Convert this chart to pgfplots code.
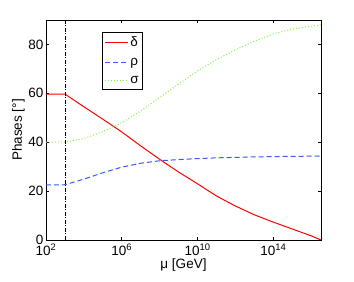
\documentclass[border=0pt]{standalone}
\usepackage{pgfplots}
\pgfplotsset{compat=1.18}
\usepackage{fontspec}
\setmainfont{Liberation Sans}
\definecolor{myred}{rgb}{1,0,0}
\definecolor{myblue}{rgb}{0.2,0.35,1}
\definecolor{mygreen}{rgb}{0.5,0.95,0.25}
\begin{document}
\begin{tikzpicture}
\begin{axis}[
  scale only axis,
  width=275pt, height=220pt,
  xmode=log,
  xmin=1e2, xmax=3.3e16,
  ymin=0, ymax=90,
  xtick={1e2,1e6,1e10,1e14},
  xticklabels={10\textsuperscript{2},10\textsuperscript{6},10\textsuperscript{10},10\textsuperscript{14}},
  minor xtick={},
  ytick={0,20,40,60,80},
  tick align=inside,
  major tick length=3pt,
  tick style={black, line width=0.6pt},
  axis line style={line width=0.9pt},
  /pgf/number format/assume math mode=true,
  tick label style={font=\fontsize{13.5}{15}\selectfont},
  label style={font=\fontsize{13.5}{15}\selectfont},
  yticklabel style={xshift=1pt},
  xlabel={μ [GeV]},
  ylabel={Phases [°]},
  xlabel style={yshift=4pt},
  ylabel style={yshift=-3pt},
  legend style={at={(0.203,0.945)}, anchor=north west, draw=black, line width=0.9pt,
    font=\fontsize{13.5}{15}\selectfont, row sep=6pt, inner sep=2pt,
    nodes={inner sep=2pt}},
  legend cell align=left,
  legend image code/.code={\draw[#1] (0pt,0pt) -- (23pt,0pt);},
  clip=true,
]
\addlegendimage{myred, line width=1.1pt}
\addlegendentry{δ}
\addlegendimage{myblue, line width=1.1pt, dash pattern=on 5pt off 3pt}
\addlegendentry{ρ}
\addlegendimage{mygreen, line width=1.1pt, dash pattern=on 1pt off 2pt}
\addlegendentry{σ}
\addplot[myred, line width=1pt, forget plot] coordinates {
(1e2,59.7) (1e3,59.7) (1e4,54.5) (1e5,49.4) (1e6,44.2) (1e7,38.5) (1e8,33.0) (1e9,27.8) (1e10,23.0) (1e11,18.0) (1e12,13.9) (1e13,10.3) (1e14,7.3) (1e15,4.5) (1e16,1.7) (3.3e16,0)
};
\addplot[myblue, line width=1pt, dash pattern=on 5pt off 3pt, forget plot] coordinates {
(1e2,22.5) (1e3,22.6) (1e4,24.9) (1e5,27.5) (1e6,29.8) (1e7,31.4) (1e8,32.4) (1e9,32.9) (1e10,33.3) (1e11,33.6) (1e12,33.8) (1e13,34.0) (1e14,34.1) (1e15,34.2) (1e16,34.3) (3.3e16,34.3)
};
\addplot[mygreen, line width=1pt, dash pattern=on 1pt off 2pt, forget plot] coordinates {
(1e2,40.0) (1e3,40.0) (1e4,41.5) (1e5,44.3) (1e6,48.0) (1e7,52.8) (1e8,58.3) (1e9,63.8) (1e10,69.2) (1e11,73.8) (1e12,77.8) (1e13,81.3) (1e14,84.3) (1e15,86.3) (1e16,87.5) (3.3e16,88.0)
};
\addplot[black, line width=0.7pt, dash pattern=on 4pt off 1.5pt on 1pt off 1.5pt, forget plot] coordinates {(1e3,0) (1e3,90)};
\coordinate (SW) at (rel axis cs:0,0);
\coordinate (NE) at (rel axis cs:1,1);
\end{axis}
\useasboundingbox ([shift={(-46pt,-42pt)}]SW) rectangle ([shift={(33pt,20pt)}]NE);
\end{tikzpicture}
\end{document}
